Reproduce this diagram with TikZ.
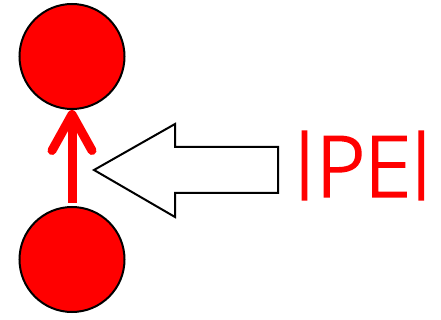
\documentclass[tikz,border=0pt]{standalone}
\usepackage{fontspec}
\setmainfont{Open Sans}
\IfFontExistsTF{Open Sans Light}
  {\newfontfamily\pefont{Open Sans Light}[FakeBold=2.4]}
  {\newfontfamily\pefont{Open Sans}}
\usetikzlibrary{arrows.meta}
\definecolor{pered}{RGB}{255,0,0}
\newcommand{\pebar}{\raisebox{-3pt}{\resizebox*{0.85\width}{68pt}{\raisebox{\depth}{\addfontfeature{FakeBold=3.4}|}}}}
\newcommand{\pechar}[2]{\makebox[#1pt][c]{#2}}
\tikzset{
  ball/.style={circle,fill=pered,draw=black,line width=2pt,minimum size=105pt,inner sep=0pt},
  move/.style={draw=pered,line width=9pt,-{Straight Barb[length=36pt,width=40pt,round]}},
  hollow/.style={draw=black,line width=2pt,fill=white}
}
\begin{document}
\begin{tikzpicture}[x=1pt,y=-1pt]
  \useasboundingbox (0,0) rectangle (441,320);
  \node[ball] (upper) at (72,56.5) {};
  \node[ball] (lower) at (72,259.5) {};
  % red step between the two balls
  \draw[move,shorten <=3pt] (lower.north) -- (upper.south);

  \node[text=pered,font=\pefont\fontsize{84}{84}\selectfont,inner sep=0pt,anchor=base west] (pe) at (286.25,196.5)
    {\pechar{36}{\pebar}\pechar{36.5}{P}\pechar{57.5}{E}\pechar{9.5}{\pebar}};
  \coordinate (tip) at (94,170);
  \draw[hollow] (tip) -- (175,124) -- (175,147) -- (278,147) -- (278,193)
    -- (175,193) -- (175,217) -- cycle;
\end{tikzpicture}
\end{document}
